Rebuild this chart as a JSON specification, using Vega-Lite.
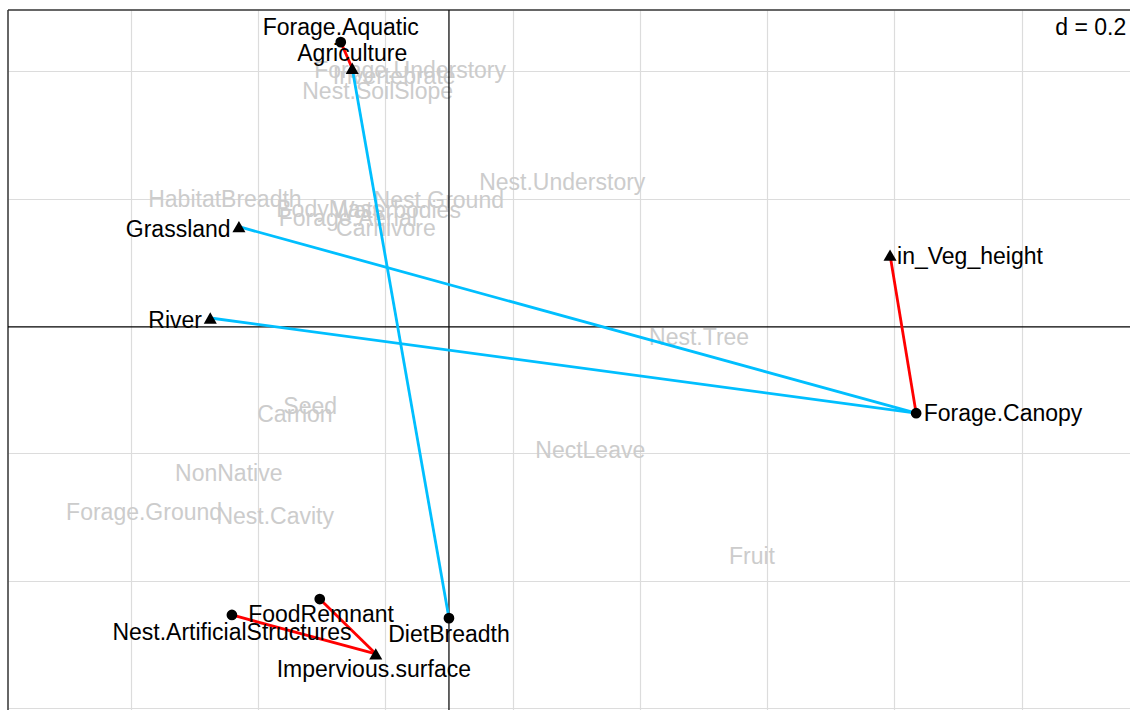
{
  "$schema": "https://vega.github.io/schema/vega-lite/v6.json",
  "width": 1122,
  "height": 700,
  "autosize": {"type": "none"},
  "padding": {"left": 8, "top": 10, "right": 0, "bottom": 0},
  "background": "white",
  "config": {"view": {"stroke": null}, "text": {"font": "Liberation Sans", "fontSize": 23, "baseline": "middle", "dy": 1}},
  "datasets": {
    "pts": [
      {"name": "Forage.Aquatic", "kind": "trait", "x": -0.170, "y": 0.446, "lx": -0.170, "ly": 0.470},
      {"name": "Forage.Canopy", "kind": "trait", "x": 0.734, "y": -0.137, "lx": 0.746, "ly": -0.137},
      {"name": "DietBreadth", "kind": "trait", "x": 0.000, "y": -0.459, "lx": 0.000, "ly": -0.484},
      {"name": "FoodRemnant", "kind": "trait", "x": -0.203, "y": -0.429, "lx": -0.201, "ly": -0.452},
      {"name": "Nest.ArtificialStructures", "kind": "trait", "x": -0.341, "y": -0.454, "lx": -0.341, "ly": -0.481},
      {"name": "Agriculture", "kind": "env", "x": -0.152, "y": 0.405, "lx": -0.152, "ly": 0.429},
      {"name": "Grassland", "kind": "env", "x": -0.330, "y": 0.156, "lx": -0.343, "ly": 0.152},
      {"name": "River", "kind": "env", "x": -0.375, "y": 0.0126, "lx": -0.388, "ly": 0.0094},
      {"name": "in_Veg_height", "kind": "env", "x": 0.693, "y": 0.1115, "lx": 0.704, "ly": 0.110},
      {"name": "Impervious.surface", "kind": "env", "x": -0.115, "y": -0.515, "lx": -0.118, "ly": -0.539}
    ],
    "links": [
      {"from": "Forage.Aquatic", "to": "Agriculture", "assoc": "positive", "x": -0.170, "y": 0.446, "x2": -0.152, "y2": 0.405},
      {"from": "Forage.Canopy", "to": "in_Veg_height", "assoc": "positive", "x": 0.734, "y": -0.137, "x2": 0.693, "y2": 0.1115},
      {"from": "FoodRemnant", "to": "Impervious.surface", "assoc": "positive", "x": -0.203, "y": -0.429, "x2": -0.115, "y2": -0.515},
      {"from": "Nest.ArtificialStructures", "to": "Impervious.surface", "assoc": "positive", "x": -0.341, "y": -0.454, "x2": -0.115, "y2": -0.515},
      {"from": "DietBreadth", "to": "Agriculture", "assoc": "negative", "x": 0.000, "y": -0.459, "x2": -0.152, "y2": 0.405},
      {"from": "Forage.Canopy", "to": "Grassland", "assoc": "negative", "x": 0.734, "y": -0.137, "x2": -0.330, "y2": 0.156},
      {"from": "Forage.Canopy", "to": "River", "assoc": "negative", "x": 0.734, "y": -0.137, "x2": -0.375, "y2": 0.0126}
    ],
    "ns": [
      {"name": "Forage.Understory", "x": -0.061, "y": 0.402},
      {"name": "Invertebrate", "x": -0.086, "y": 0.393},
      {"name": "Nest.SoilSlope", "x": -0.112, "y": 0.369},
      {"name": "Nest.Understory", "x": 0.178, "y": 0.226},
      {"name": "HabitatBreadth", "x": -0.352, "y": 0.200},
      {"name": "Nest.Ground", "x": -0.016, "y": 0.198},
      {"name": "BodyMass", "x": -0.187, "y": 0.184},
      {"name": "Waterbodies", "x": -0.082, "y": 0.182},
      {"name": "Forage.Aerial", "x": -0.159, "y": 0.170},
      {"name": "Carnivore", "x": -0.099, "y": 0.154},
      {"name": "Nest.Tree", "x": 0.393, "y": -0.017},
      {"name": "Seed", "x": -0.218, "y": -0.126},
      {"name": "Carrion", "x": -0.242, "y": -0.138},
      {"name": "NectLeave", "x": 0.222, "y": -0.195},
      {"name": "NonNative", "x": -0.346, "y": -0.231},
      {"name": "Forage.Ground", "x": -0.479, "y": -0.292},
      {"name": "Nest.Cavity", "x": -0.273, "y": -0.299},
      {"name": "Fruit", "x": 0.476, "y": -0.361}
    ],
    "note": [{"text": "d = 0.2", "x": 1.064, "y": 0.470}],
    "frame": [{"x": -0.6928, "y": 0.4965}],
    "origin": [{"x": 0, "y": -0.0012}]
  },
  "resolve": {"scale": {"color": "independent"}},
  "layer": [
    {
      "data": {"name": "ns"},
      "mark": {"type": "text", "color": "#cccccc", "align": "center"},
      "encoding": {
        "x": {"field": "x", "type": "quantitative", "scale": {"domain": [-0.6928, 1.07], "nice": false, "zero": false},
              "axis": {"title": null, "labels": false, "ticks": false, "domain": false, "grid": true, "gridColor": "#dcdcdc", "gridWidth": 1.2, "values": [-0.5, -0.3, -0.1, 0.1, 0.3, 0.5, 0.7, 0.9]}},
        "y": {"field": "y", "type": "quantitative", "scale": {"domain": [-0.6033, 0.4965], "nice": false, "zero": false},
              "axis": {"title": null, "labels": false, "ticks": false, "domain": false, "grid": true, "gridColor": "#dcdcdc", "gridWidth": 1.2, "values": [-0.6, -0.4, -0.2, 0.2, 0.4]}},
        "text": {"field": "name"}
      }
    },
    {
      "data": {"name": "frame"},
      "mark": {"type": "rule", "color": "#333333", "strokeWidth": 1.5},
      "encoding": {"y": {"field": "y", "type": "quantitative"}}
    },
    {
      "data": {"name": "frame"},
      "mark": {"type": "rule", "color": "#333333", "strokeWidth": 1.5},
      "encoding": {"x": {"field": "x", "type": "quantitative"}}
    },
    {
      "data": {"name": "origin"},
      "mark": {"type": "rule", "color": "black", "strokeWidth": 1.3},
      "encoding": {"y": {"field": "y", "type": "quantitative"}}
    },
    {
      "data": {"name": "origin"},
      "mark": {"type": "rule", "color": "#111111", "strokeWidth": 1.3},
      "encoding": {"x": {"field": "x", "type": "quantitative"}}
    },
    {
      "data": {"name": "links"},
      "mark": {"type": "rule", "strokeWidth": 2.8},
      "encoding": {
        "x": {"field": "x", "type": "quantitative"},
        "y": {"field": "y", "type": "quantitative"},
        "x2": {"field": "x2"},
        "y2": {"field": "y2"},
        "color": {"field": "assoc", "type": "nominal", "scale": {"domain": ["positive", "negative"], "range": ["#ff0000", "#00bfff"]}, "legend": null}
      }
    },
    {
      "data": {"name": "pts"},
      "mark": {"type": "point", "filled": true, "opacity": 1, "color": "black"},
      "encoding": {
        "x": {"field": "x", "type": "quantitative"},
        "y": {"field": "y", "type": "quantitative"},
        "shape": {"field": "kind", "type": "nominal", "scale": {"domain": ["trait", "env"], "range": ["circle", "triangle-up"]}, "legend": null},
        "size": {"field": "kind", "type": "nominal", "scale": {"domain": ["trait", "env"], "range": [115, 170]}, "legend": null}
      }
    },
    {
      "data": {"name": "pts"},
      "transform": [{"filter": "abs(datum.lx - datum.x) <= 0.005"}],
      "mark": {"type": "text", "color": "black", "align": "center"},
      "encoding": {"x": {"field": "lx", "type": "quantitative"}, "y": {"field": "ly", "type": "quantitative"}, "text": {"field": "name"}}
    },
    {
      "data": {"name": "pts"},
      "transform": [{"filter": "datum.lx - datum.x > 0.005"}],
      "mark": {"type": "text", "color": "black", "align": "left"},
      "encoding": {"x": {"field": "lx", "type": "quantitative"}, "y": {"field": "ly", "type": "quantitative"}, "text": {"field": "name"}}
    },
    {
      "data": {"name": "pts"},
      "transform": [{"filter": "datum.x - datum.lx > 0.005"}],
      "mark": {"type": "text", "color": "black", "align": "right"},
      "encoding": {"x": {"field": "lx", "type": "quantitative"}, "y": {"field": "ly", "type": "quantitative"}, "text": {"field": "name"}}
    },
    {
      "data": {"name": "note"},
      "mark": {"type": "text", "color": "black", "align": "right"},
      "encoding": {"x": {"field": "x", "type": "quantitative"}, "y": {"field": "y", "type": "quantitative"}, "text": {"field": "text"}}
    }
  ]
}
